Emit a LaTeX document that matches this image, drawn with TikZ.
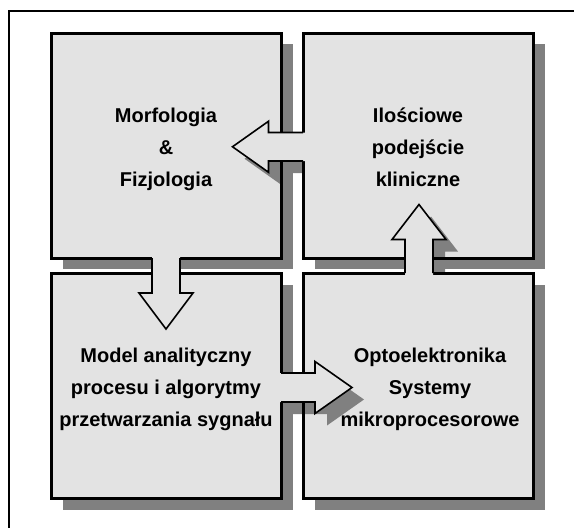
\documentclass[tikz,border=0pt]{standalone}
\usepackage{fontspec}
\setmainfont{Liberation Sans}
\usetikzlibrary{shadows}
\definecolor{boxgray}{gray}{0.89}
\definecolor{shadegray}{gray}{0.5}
\tikzset{
  blok/.style={fill=boxgray, minimum width=230pt, minimum height=225pt,
    inner sep=0pt, outer sep=0pt,
    drop shadow={shadow xshift=12pt, shadow yshift=-11pt, fill=shadegray, opacity=1}},
  krawedz/.style={line width=3pt},
  opis/.style={font=\fontsize{20}{32}\selectfont\bfseries, align=center},
  strzalka/.style={line width=1.6pt},
}
\begin{document}
\begin{tikzpicture}[x=1pt,y=-1pt]
\useasboundingbox (0,0) rectangle (574,528);
% ramka
\draw[line width=2pt] (9,528) -- (9,11) -- (574,11);

% bloki
\node[blok] (morf) at (166,145.5) {};
\node[blok] (ilosc) at (418,145.5) {};
\node[blok] (model) at (166,386) {};
\node[blok] (opto) at (418,386) {};

\node[opis] (morfTxt) at (166,149.4) {Morfologia\\\&\\Fizjologia};
\node[opis] (iloscTxt) at (418,147.3) {Ilościowe\\podejście\\kliniczne};
\node[opis] (modelTxt) at (166,389.3) {Model analityczny\\procesu i algorytmy\\przetwarzania sygnału};
\node[opis] (optoTxt) at (430,389.3) {Optoelektronika\\Systemy\\mikroprocesorowe};

% cienie strzalek
\fill[shadegray] (303,144.5) -- (280.5,144.5) -- (280.5,133.25) -- (244.5,158.75) -- (280.5,184.25) -- (280.5,173) -- (303,173) -- cycle;
\fill[shadegray] (281,385) -- (327,385) -- (327,373.5) -- (364,399.5) -- (327,425.5) -- (327,414) -- (281,414) -- cycle;
\fill[shadegray] (417,273) -- (417,251.5) -- (404,251.5) -- (431,216.5) -- (458,251.5) -- (445,251.5) -- (445,273) -- cycle;

% krawedzie blokow
\draw[krawedz] (morf.north west) rectangle (morf.south east);
\draw[krawedz] (ilosc.north west) rectangle (ilosc.south east);
\draw[krawedz] (model.north west) rectangle (model.south east);
\draw[krawedz] (opto.north west) rectangle (opto.south east);

% ilosc -> morf
\fill[boxgray] (305,132.5) -- (268.5,132.5) -- (268.5,121.25) -- (232.5,146.75) -- (268.5,172.25) -- (268.5,161) -- (305,161) -- cycle;
\draw[strzalka] (303,132.5) -- (268.5,132.5) -- (268.5,121.25) -- (232.5,146.75) -- (268.5,172.25) -- (268.5,161) -- (303,161);

% morf -> model
\fill[boxgray] (152,256) -- (152,293) -- (139,293) -- (166,329) -- (193,293) -- (180,293) -- (180,256) -- cycle;
\draw[strzalka] (152,258) -- (152,293) -- (139,293) -- (166,329) -- (193,293) -- (180,293) -- (180,258);

% model -> opto
\fill[boxgray] (279,373) -- (315,373) -- (315,361.5) -- (352,387.5) -- (315,413.5) -- (315,402) -- (279,402) -- cycle;
\draw[strzalka] (281,373) -- (315,373) -- (315,361.5) -- (352,387.5) -- (315,413.5) -- (315,402) -- (281,402);

% opto -> ilosc
\fill[boxgray] (405,275) -- (405,239.5) -- (392,239.5) -- (419,204.5) -- (446,239.5) -- (433,239.5) -- (433,275) -- cycle;
\draw[strzalka] (405,273) -- (405,239.5) -- (392,239.5) -- (419,204.5) -- (446,239.5) -- (433,239.5) -- (433,273);
\end{tikzpicture}
\end{document}
